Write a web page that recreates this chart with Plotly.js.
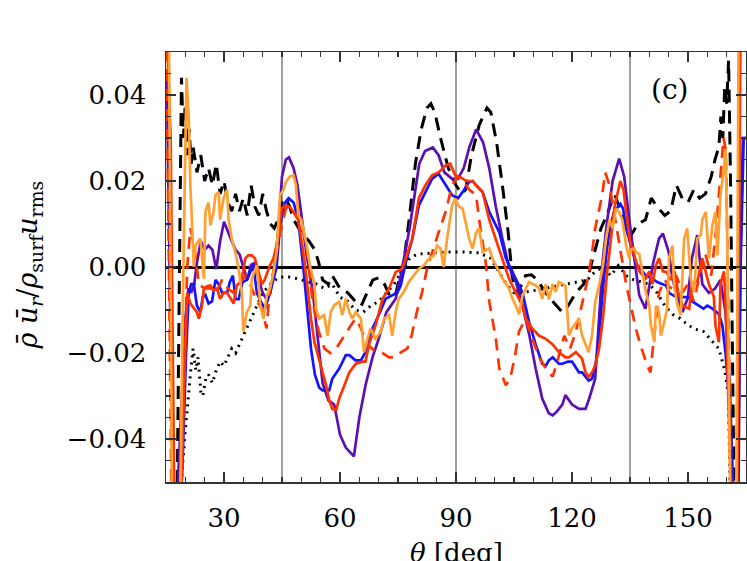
<!DOCTYPE html>
<html lang="en">
<head>
    <meta charset="UTF-8">
    <title>Mass flux vs latitude</title>
    <style>
        body { margin: 0; background: white; }
        #plot { width: 747px; height: 561px; }
    </style>
</head>
<body>
<div id="plot"></div>
<script src="https://cdn.plot.ly/plotly-3.0.1.min.js"></script>
<script>
    // [theta (deg), value] pairs
    var blackDashed = [[17.8,-0.06],[18.5,0.0],[19.0,0.044],[19.5,0.030],[20.0,0.038],[20.5,0.026],[21,0.032],[21.5,0.024],[22,0.028],[23,0.022],[24,0.026],[25,0.020],[26,0.023],[27,0.019],[28,0.024],[29,0.017],[30,0.020],[31,0.015],[32,0.013],[33,0.017],[34,0.013],[35,0.016],[36,0.012],[37,0.019],[38,0.014],[39,0.012],[40,0.017],[41,0.013],[42,0.010],[43,0.009],[44,0.011],[45,0.015],[46,0.016],[47,0.014],[48,0.011],[50,0.008],[52,0.006],[53.5,0.004],[54.5,0.001],[55.5,-0.003],[57,-0.004],[58,-0.002],[60,-0.005],[62,-0.006],[64,-0.008],[65.5,-0.009],[67,-0.006],[68.5,-0.003],[70,-0.0025],[71.5,-0.004],[73,-0.007],[74.5,-0.006],[75.5,-0.002],[76.5,0.001],[78,0.012],[79.5,0.024],[81,0.032],[82.5,0.037],[83.5,0.038],[84.5,0.036],[86,0.030],[88,0.023],[90,0.019],[91.5,0.017],[92.5,0.018],[94,0.026],[96,0.033],[98,0.037],[99,0.036],[100.5,0.029],[102,0.019],[103.5,0.008],[104.5,-0.002],[105.5,-0.006],[106.5,-0.005],[108,-0.002],[109.5,-0.0018],[111,-0.003],[112.5,-0.005],[114,-0.007],[116,-0.009],[117.5,-0.0105],[119,-0.009],[121,-0.006],[123,-0.004],[124.5,-0.001],[126,0.004],[127.5,0.009],[129,0.012],[131,0.017],[133,0.012],[135,0.007],[137,0.010],[139,0.011],[140.5,0.016],[142,0.014],[144,0.012],[145.5,0.013],[147,0.019],[148.5,0.016],[150,0.015],[151.5,0.018],[153,0.016],[154.5,0.017],[156,0.021],[157,0.025],[158,0.028],[158.5,0.035],[159,0.030],[159.5,0.042],[160,0.038],[160.5,0.048],[161,0.02],[161.5,-0.02],[162,-0.06]];

    var blackDotted = [[18.5,-0.06],[19.2,-0.047],[20,-0.038],[20.7,-0.03],[21.3,-0.025],[22,-0.019],[22.7,-0.024],[23.3,-0.021],[24,-0.029],[24.5,-0.030],[25.3,-0.026],[26,-0.025],[27,-0.027],[28,-0.024],[29,-0.022],[30,-0.023],[31,-0.021],[32,-0.019],[33,-0.020],[34,-0.018],[35,-0.016],[36,-0.014],[37,-0.012],[38,-0.010],[39,-0.008],[40,-0.006],[42,-0.004],[44,-0.0025],[46,-0.0022],[48,-0.0025],[50,-0.003],[52,-0.0035],[54,-0.004],[56,-0.005],[58,-0.004],[60,-0.007],[62,-0.008],[64,-0.010],[66,-0.0105],[68,-0.009],[70,-0.008],[72,-0.006],[74,-0.004],[76,-0.001],[78,0.002],[80,0.003],[84,0.0033],[88,0.0035],[92,0.0035],[96,0.0033],[99,0.002],[101,-0.001],[103,-0.004],[105,-0.006],[107,-0.006],[110,-0.0055],[113,-0.005],[116,-0.0045],[119,-0.004],[122,-0.0035],[124,-0.003],[126,-0.001],[128,0.0],[130,-0.002],[132,0.0003],[134,-0.002],[136,-0.003],[138,-0.0035],[140,-0.004],[142,-0.006],[144,-0.009],[146,-0.011],[148,-0.012],[150,-0.0135],[152,-0.0145],[154,-0.015],[156,-0.017],[158,-0.019],[159.5,-0.024],[160.5,-0.03],[161,-0.06]];

    var purpleLine = [[15.2,0.045],[16.0,0.0],[16.8,-0.055],[17.6,-0.06],[18.4,-0.045],[19.2,-0.03],[20,-0.012],[20.8,-0.005],[21.5,-0.006],[22.3,-0.004],[23,0.001],[24,0.006],[25,0.004],[26,0.005],[27,0.004],[28,-0.0005],[29,0.006],[30,0.0105],[31,0.008],[32,0.006],[33,0.004],[34,0.003],[35,0.0],[36,-0.003],[37,0.0005],[38,0.001],[39,-0.003],[40,-0.006],[41,-0.0075],[42,-0.006],[43,0.0],[44,0.008],[45,0.021],[46,0.025],[46.8,0.0255],[48,0.023],[49,0.019],[50,0.012],[51.5,0.002],[53,-0.006],[54.5,-0.018],[55.5,-0.027],[57,-0.031],[58.5,-0.032],[60,-0.039],[61.5,-0.042],[62.5,-0.043],[63.6,-0.044],[65,-0.035],[66.6,-0.0275],[68.4,-0.021],[70,-0.0167],[72,-0.0105],[74.4,-0.0074],[75.5,-0.003],[76.5,0.002],[78,0.009],[79,0.015],[80.5,0.024],[82,0.027],[84,0.0278],[85.5,0.026],[87,0.022],[89,0.0205],[90.5,0.0205],[92,0.023],[93.5,0.028],[95.2,0.032],[97,0.029],[98.6,0.023],[100.3,0.014],[102,0.0066],[103.7,0.0],[105.5,-0.0035],[107.2,-0.009],[109,-0.016],[110.6,-0.0236],[112.3,-0.0306],[114,-0.034],[115,-0.0345],[116,-0.0337],[117.5,-0.032],[118.3,-0.0298],[120,-0.032],[121.8,-0.033],[123.5,-0.033],[124.3,-0.031],[126,-0.026],[127,-0.012],[128,0.002],[129,0.01],[130.5,0.02],[132.2,0.0252],[133.5,0.021],[134.8,0.011],[136,0.003],[137.4,-0.0066],[139,-0.0097],[140,-0.004],[141,0.001],[142.5,0.0066],[143.5,0.0078],[145,0.0035],[146,-0.0027],[147,-0.006],[148.6,-0.0105],[150,-0.007],[151,0.002],[152.4,0.0074],[153.7,-0.004],[155.4,-0.006],[157,-0.005],[158.4,-0.003],[159.7,-0.0105],[160.8,-0.0275],[162,-0.06],[163,-0.06],[163.5,0.0],[164.2,0.03],[165,0.03]];

    var blueLine = [[17.5,-0.06],[18.5,-0.06],[19.3,-0.045],[20.2,-0.02],[20.9,-0.006],[21.5,-0.004],[22.2,-0.004],[23,-0.009],[23.9,-0.0105],[24.5,-0.007],[25.2,-0.0065],[26,-0.0085],[26.9,-0.008],[27.8,-0.003],[28.6,-0.004],[29.5,-0.006],[30.8,-0.006],[31.5,-0.0035],[32.3,-0.002],[33,-0.0075],[33.8,-0.0075],[34.8,-0.0035],[35.9,-0.003],[36.8,-0.001],[37.6,0.0004],[38.5,-0.006],[39.5,-0.008],[40.6,-0.0097],[41.9,-0.006],[43.6,0.0],[44.5,0.0097],[45.8,0.015],[46.7,0.016],[48,0.015],[49.2,0.011],[50.5,0.0],[51.5,-0.009],[52.5,-0.019],[53.5,-0.025],[54.6,-0.028],[55.5,-0.0287],[57.2,-0.0287],[58,-0.026],[59.8,-0.0236],[61.5,-0.0205],[62.4,-0.0205],[64,-0.0217],[65.4,-0.0217],[66.6,-0.0198],[68.4,-0.0143],[70,-0.0112],[71.8,-0.0074],[73.5,-0.0066],[74.8,-0.006],[75.7,-0.0043],[77,0.001],[78.7,0.0066],[80.4,0.0143],[82.1,0.0174],[83.8,0.0205],[85.5,0.0217],[87.3,0.019],[89,0.0167],[90.5,0.016],[91.7,0.0174],[93.4,0.0198],[94.3,0.020],[95.2,0.019],[96.9,0.0174],[98.6,0.0128],[101.2,0.0081],[102.9,0.002],[104.6,-0.001],[106.3,-0.0043],[107.2,-0.006],[108.9,-0.0128],[110.6,-0.018],[112.3,-0.0225],[113.2,-0.023],[114,-0.0217],[115,-0.021],[116.6,-0.0225],[117.5,-0.0225],[119,-0.022],[120,-0.022],[121.8,-0.0245],[122.6,-0.0245],[124.3,-0.0264],[125.2,-0.026],[126.2,-0.022],[126.9,-0.0175],[128,-0.005],[129,0.004],[130,0.010],[131,0.013],[132.5,0.0147],[133.2,0.0136],[134,0.0089],[135.7,0.0035],[136.5,0.001],[138.2,-0.001],[139.1,-0.002],[140.8,-0.0027],[142,-0.0035],[144.3,-0.0043],[145.1,-0.006],[147.7,-0.0074],[148.6,-0.007],[150.3,-0.007],[151.1,-0.008],[152.8,-0.009],[154,-0.0097],[155,-0.009],[156.3,-0.0097],[158,-0.011],[158.9,-0.0136],[159.7,-0.02],[161,-0.035],[161.6,-0.06],[162.8,-0.06],[163.6,0.0],[164.4,0.03],[165,0.03]];

    var redLine = [[15,0.06],[16.2,0.03],[17.2,-0.06],[18.8,-0.06],[19.6,-0.03],[20.5,-0.006],[21.3,-0.0085],[22.2,-0.0095],[23,-0.0105],[23.5,-0.012],[24.3,-0.009],[24.8,-0.005],[25.6,-0.0045],[26.5,-0.0043],[27.3,-0.0055],[28.2,-0.005],[29,-0.0074],[29.9,-0.006],[30.8,-0.006],[31.5,-0.007],[32.5,-0.0085],[33.3,-0.0043],[34.2,-0.0035],[35,-0.001],[35.5,0.002],[36.3,0.0027],[37.2,0.0027],[38,0.002],[38.9,-0.001],[39.8,-0.004],[40.5,-0.003],[41.2,-0.0012],[41.9,0.0004],[42.8,0.002],[44,0.0066],[44.9,0.0136],[46,0.0143],[47,0.014],[48,0.0128],[49.2,0.011],[50.5,0.0035],[51.5,-0.004],[52.5,-0.012],[53.4,-0.0175],[54.6,-0.0213],[55.5,-0.0245],[56.4,-0.0275],[57.2,-0.031],[58,-0.033],[59,-0.0333],[59.8,-0.0306],[61.5,-0.0267],[62.4,-0.0245],[64.1,-0.0225],[65.8,-0.022],[66.6,-0.022],[67.5,-0.018],[69.2,-0.0136],[71,-0.0074],[72.7,-0.005],[74.4,-0.0012],[76.1,-0.0004],[77,0.002],[78.7,0.0066],[80.4,0.016],[82.1,0.019],[83.8,0.0213],[85.5,0.022],[87.3,0.0236],[88.5,0.024],[89.8,0.0213],[91,0.021],[92.6,0.020],[94.3,0.020],[95.2,0.019],[96.9,0.0174],[98.6,0.011],[100.3,0.0066],[102,0.002],[103.7,-0.0027],[105.5,-0.006],[107.2,-0.009],[108,-0.012],[109.7,-0.0143],[111.5,-0.016],[113.2,-0.0167],[115,-0.018],[116.6,-0.0198],[118.3,-0.021],[119.2,-0.021],[121,-0.0198],[122.6,-0.0213],[123.5,-0.0245],[124.3,-0.0256],[125.2,-0.0245],[126,-0.023],[127,-0.019],[128,-0.012],[129,-0.002],[130,0.006],[131,0.014],[132.5,0.020],[133.3,0.018],[134,0.013],[135,0.006],[136,0.003],[137.4,-0.001],[139,-0.0027],[140,-0.001],[140.8,-0.004],[141.7,0.0004],[142.5,0.002],[143.5,-0.001],[144.5,-0.0012],[145.5,-0.003],[146.5,-0.001],[147.5,-0.006],[148.6,-0.009],[150.3,-0.0097],[151.1,-0.004],[152.5,-0.003],[153.7,0.002],[154.5,-0.001],[155.4,-0.004],[156.7,-0.007],[157.1,-0.0136],[158,-0.0175],[158.4,-0.004],[159.3,-0.001],[159.7,-0.008],[161.4,-0.06],[162.7,-0.06],[163.6,0.06]];

    var redDashed = [[15,0.06],[16.5,-0.06],[18.5,-0.06],[19.5,-0.03],[20.5,0.0],[21.3,0.009],[22.3,0.005],[23.5,-0.004],[25,-0.005],[26.5,-0.005],[28,-0.006],[29.5,-0.003],[31,-0.005],[32.5,-0.006],[34,-0.004],[35.5,-0.002],[36.8,-0.004],[38.5,-0.008],[39.8,-0.0097],[41,-0.0143],[41.9,-0.005],[43,0.0],[44.5,0.008],[46,0.0136],[47,0.0143],[48.5,0.012],[50,0.0105],[51.5,0.004],[52.9,-0.008],[54.5,-0.015],[56,-0.019],[57.5,-0.020],[59,-0.019],[61,-0.016],[62.5,-0.014],[64,-0.012],[65.3,-0.014],[67,-0.018],[69,-0.0195],[71,-0.020],[72.7,-0.021],[74,-0.021],[75.5,-0.020],[77.4,-0.019],[78.5,-0.016],[80,-0.010],[81.2,-0.006],[82.6,0.0],[84,0.004],[85.5,0.008],[87.3,0.0128],[89,0.019],[90.5,0.021],[92,0.020],[93.4,0.018],[95.2,0.0167],[96,0.011],[97.7,0.001],[98.6,-0.008],[100.3,-0.0167],[101.2,-0.0236],[102.9,-0.0275],[104,-0.026],[105.2,-0.021],[106.3,-0.015],[108,-0.012],[109.5,-0.016],[111.5,-0.021],[113.5,-0.024],[115,-0.0255],[116.5,-0.021],[118,-0.016],[119.5,-0.019],[121,-0.015],[122.5,-0.009],[124,-0.003],[125,0.002],[126,0.009],[127.8,0.0167],[128.6,0.022],[129.7,0.019],[131,0.012],[132.5,0.004],[134,-0.004],[135.7,-0.011],[136.5,-0.0143],[138,-0.019],[139.5,-0.023],[140.3,-0.0245],[141,-0.018],[142.5,-0.006],[144,-0.003],[145.5,-0.005],[147,-0.002],[148.5,-0.006],[150,-0.004],[151.5,-0.008],[153,-0.002],[154.5,0.003],[156,-0.002],[157.2,0.008],[158.2,0.02],[159.2,0.030],[159.8,0.027],[160.6,-0.02],[161.3,-0.06],[162.5,-0.06],[163.4,0.06]];

    var orangeLine = [[15,0.06],[15.8,0.05],[16.6,-0.06],[18.6,-0.06],[19.5,0.0],[20.3,0.044],[20.9,0.0345],[21.3,0.019],[22.2,0.0],[22.6,0.005],[23.9,0.0066],[24.3,0.0027],[24.8,-0.0027],[25.2,0.0128],[26,0.015],[26.5,0.0097],[27.3,0.0128],[27.8,0.0167],[28.6,0.0174],[29,0.011],[29.9,0.016],[30.8,0.018],[31.2,0.011],[32,0.0066],[32.9,0.0035],[33.8,-0.0004],[34.6,-0.006],[35,-0.015],[35.9,-0.0105],[36.8,-0.009],[37.2,-0.0027],[38.5,0.0004],[39.4,-0.009],[40.2,-0.012],[41.1,-0.0066],[41.9,-0.005],[42.8,-0.0012],[43.6,0.0035],[44.5,0.0167],[45.4,0.018],[46,0.0198],[47,0.021],[48,0.0213],[48.6,0.019],[49.2,0.012],[50,0.011],[51.4,0.005],[52.2,0.0004],[53.4,-0.004],[53.8,-0.0097],[54.6,-0.012],[55.9,-0.0112],[56.8,-0.016],[57.6,-0.0105],[58.5,-0.0089],[59.8,-0.0081],[60.6,-0.0112],[61.5,-0.0074],[62.4,-0.0105],[63.2,-0.012],[64.1,-0.0105],[65.4,-0.012],[66.2,-0.0198],[67.1,-0.0167],[67.9,-0.0143],[69.2,-0.0167],[70.5,-0.0151],[71.4,-0.012],[72.7,-0.0112],[73.5,-0.016],[74.4,-0.0105],[75.2,-0.0074],[76.5,-0.0058],[77.8,-0.0035],[79.1,-0.0019],[80.4,-0.0004],[81.7,0.0004],[83,0.0019],[84.3,0.0027],[85.1,0.005],[86,0.0043],[86.8,0.0],[87.7,0.0066],[89,0.0143],[89.8,0.0159],[90.8,0.014],[91.7,0.0136],[92.6,0.0097],[93.4,0.0066],[94.3,0.0043],[95.2,0.008],[96,0.009],[96.9,0.0035],[98.6,0.0043],[99.4,0.002],[100.3,0.0004],[101.2,-0.0012],[102,-0.0027],[103.7,-0.005],[104.6,-0.0074],[105.5,-0.009],[106.3,-0.011],[107.2,-0.0066],[108,-0.005],[108.9,-0.0035],[110.6,-0.0043],[111.5,-0.005],[112.3,-0.0074],[113.2,-0.004],[114,-0.0075],[115,-0.004],[115.8,-0.0058],[116.6,-0.0035],[118.3,-0.0043],[119.2,-0.0159],[120,-0.0143],[121.8,-0.012],[122.6,-0.0159],[123.5,-0.018],[124.3,-0.0198],[125.2,-0.0159],[126,-0.0081],[127,-0.0043],[128,0.0004],[128.8,0.0066],[129.7,0.011],[130.5,0.009],[131.4,0.0136],[132.2,0.0128],[133,0.011],[134,0.005],[134.8,0.002],[135.2,0.004],[136.1,0.0043],[136.5,0.0035],[137.4,0.003],[138.2,-0.0012],[139.1,-0.0058],[140,-0.009],[140.4,-0.0136],[141.3,-0.0175],[141.7,-0.009],[142.5,-0.0105],[143,-0.016],[143.8,-0.013],[144.6,-0.0097],[145.1,0.002],[146,0.005],[146.4,-0.0043],[147.3,-0.009],[148.1,-0.0112],[149,0.0066],[149.8,0.009],[150.7,-0.0027],[151.6,-0.0058],[152.4,0.0066],[153.3,0.0074],[153.7,0.011],[154.6,0.0128],[155.4,0.002],[156.3,0.0097],[157.1,0.0128],[157.6,0.0027],[158.4,0.0167],[159.3,0.023],[159.7,0.0275],[160.1,0.01],[161,-0.06],[162.5,-0.06],[163.1,0.06]];

    var refAngles = [45, 90, 135];
    var xTicks = [30, 60, 90, 120, 150];
    var yTicks = [-0.04, -0.02, 0.0, 0.02, 0.04];

    var serif = 'DejaVu Serif, serif';

    function line(pairs, color, dash, width) {
        return {
            x: pairs.map(function(p) { return p[0]; }),
            y: pairs.map(function(p) { return p[1]; }),
            type: 'scatter',
            mode: 'lines',
            line: {color: color, dash: dash, width: width},
            showlegend: false,
            hoverinfo: 'skip'
        };
    }

    var traces = [
        line(blackDotted, 'black', '2px,5px', 3),
        line(blackDashed, 'black', '13px,8px', 3),
        line(purpleLine, '#5a10b4', 'solid', 2.7),
        line(blueLine, '#1414ff', 'solid', 2.7),
        line(redLine, '#ff3300', 'solid', 2.7),
        line(redDashed, '#ff3300', '12px,8px', 2.7),
        line(orangeLine, '#ffa033', 'solid', 2.7)
    ];

    var shapes = refAngles.map(function(a) {
        return {
            type: 'line', layer: 'below',
            xref: 'x', yref: 'paper',
            x0: a, x1: a, y0: 0, y1: 1,
            line: {color: '#808080', width: 1.5}
        };
    });

    var layout = {
        width: 747,
        height: 561,
        margin: {l: 166, r: 1, t: 52, b: 79},
        paper_bgcolor: 'white',
        plot_bgcolor: 'white',
        font: {family: serif, size: 26, color: 'black'},
        xaxis: {
            range: [15, 165],
            tickvals: xTicks,
            ticks: 'inside',
            ticklen: 10,
            tickwidth: 1.5,
            tickcolor: '#333',
            minor: {dtick: 5, ticks: 'inside', ticklen: 5, tickwidth: 1.2, tickcolor: '#333'},
            showline: true,
            linecolor: '#333',
            linewidth: 1.5,
            mirror: 'allticks',
            showgrid: false,
            zeroline: false,
            ticklabelstandoff: 12,
            tickfont: {family: serif, size: 26}
        },
        yaxis: {
            range: [-0.05, 0.05],
            tickvals: yTicks,
            tickformat: '.2f',
            ticks: 'inside',
            ticklen: 10,
            tickwidth: 1.5,
            tickcolor: '#333',
            minor: {dtick: 0.005, ticks: 'inside', ticklen: 5, tickwidth: 1.2, tickcolor: '#333'},
            showline: true,
            linecolor: '#333',
            linewidth: 1.5,
            mirror: 'allticks',
            showgrid: false,
            zeroline: true,
            zerolinecolor: 'black',
            zerolinewidth: 3,
            ticklabelstandoff: 13,
            tickfont: {family: serif, size: 26}
        },
        shapes: shapes,
        annotations: [
            {
                text: '<i>θ</i> [deg]',
                xref: 'x', yref: 'paper', x: 90, y: 0,
                xanchor: 'center', yanchor: 'top', yshift: -54,
                showarrow: false, font: {family: serif, size: 26}
            },
            {
                text: '<i>ρ̄</i> <i>ū</i><sub><i>r</i></sub>/<i>ρ</i><sub>surf</sub><i>u</i><sub>rms</sub>',
                xref: 'paper', yref: 'paper', x: -0.235, y: 0.505,
                xanchor: 'center', yanchor: 'middle', textangle: -90,
                showarrow: false, font: {family: serif, size: 27}
            },
            {
                text: '(c)',
                xref: 'paper', yref: 'paper', x: 0.869, y: 0.912,
                xanchor: 'center', yanchor: 'middle',
                showarrow: false, font: {family: serif, size: 28}
            }
        ]
    };

    Plotly.newPlot('plot', traces, layout, {staticPlot: true});
</script>
</body>
</html>
